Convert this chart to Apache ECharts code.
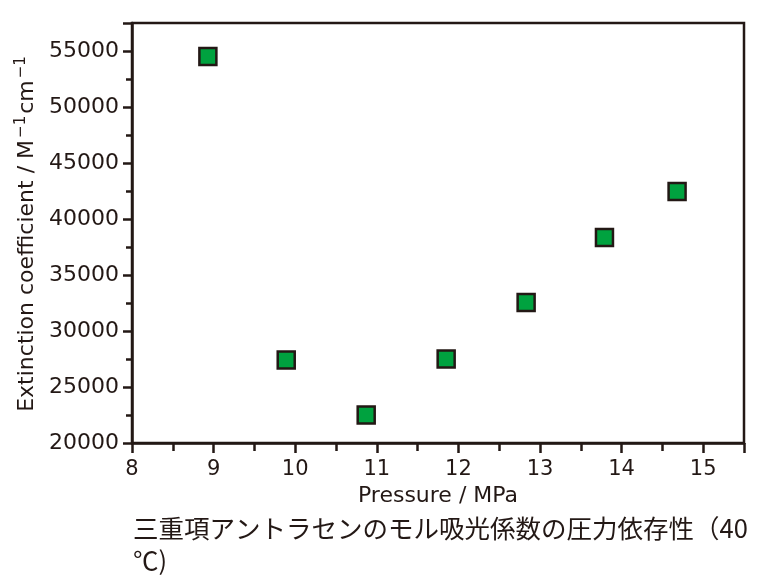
<!DOCTYPE html>
<html>
<head>
<meta charset="utf-8">
<script src="https://cdn.jsdelivr.net/npm/echarts@6/dist/echarts.min.js"></script>
<style>html,body{margin:0;padding:0;background:#fff}#c{width:768px;height:578px}</style>
</head>
<body>
<div id="c"></div>
<script>
const pressure = [8.93, 9.89, 10.87, 11.85, 12.83, 13.79, 14.68];
const extinction = [54500, 27400, 22500, 27500, 32550, 38350, 42450];
const xTitle = 'Pressure / MPa';
const captionLine1 = '三重項アントラセンのモル吸光係数の圧力依存性（40';
const captionLine2 = '℃)';

const ink = '#231815';
const chart = echarts.init(document.getElementById('c'));
chart.setOption({
  animation: false,
  backgroundColor: '#fff',
  title: {
    text: captionLine1 + '\n' + captionLine2,
    left: 128, top: 507,
    textStyle: { fontFamily: 'Noto Sans CJK JP', fontSize: 25.5, fontWeight: 'normal', color: ink, lineHeight: 32 }
  },
  grid: { left: 132, right: 24, top: 23, bottom: 135, show: true, borderColor: ink, borderWidth: 2.5, backgroundColor: 'transparent' },
  xAxis: {
    type: 'value', min: 8, max: 15.5, interval: 1,
    name: xTitle, nameLocation: 'middle', nameGap: 41,
    nameTextStyle: { fontFamily: 'DejaVu Sans', fontSize: 22, color: ink },
    axisLine: { show: true, onZero: false, lineStyle: { color: ink, width: 2.5 } },
    axisTick: { show: true, inside: false, length: 10, lineStyle: { color: ink, width: 2.5 } },
    minorTick: { show: true, splitNumber: 2, length: 8, lineStyle: { color: ink, width: 2.5 } },
    axisLabel: { fontFamily: 'DejaVu Sans', fontSize: 21, color: ink, margin: 16, showMaxLabel: false,
      formatter: v => (Number.isInteger(v) ? String(v) : '') },
    splitLine: { show: false }
  },
  yAxis: {
    type: 'value', min: 20000, max: 57500, interval: 5000,
    name: '{n|Extinction coefficient / M}{s|−1}{n|cm}{s|−1}', nameLocation: 'middle', nameGap: 89,
    nameTextStyle: {
      rich: {
        n: { fontFamily: 'DejaVu Sans', fontSize: 22, color: ink },
        s: { fontFamily: 'DejaVu Sans', fontSize: 15, color: ink, verticalAlign: 'top', padding: [0, 2, 12, 2] }
      }
    },
    axisLine: { show: true, onZero: false, lineStyle: { color: ink, width: 2.5 } },
    axisTick: { show: true, inside: false, length: 9, lineStyle: { color: ink, width: 2.5 } },
    minorTick: { show: true, splitNumber: 2, length: 6, lineStyle: { color: ink, width: 2.5 } },
    axisLabel: { fontFamily: 'DejaVu Sans', fontSize: 22, color: ink, margin: 13, showMaxLabel: false,
      formatter: v => (v % 5000 === 0 ? String(v) : '') },
    splitLine: { show: false }
  },
  series: [{
    type: 'scatter',
    data: pressure.map((p, i) => [p, extinction[i]]),
    symbol: 'rect', symbolSize: 17,
    itemStyle: { color: '#00a23f', borderColor: ink, borderWidth: 2.5, opacity: 1 }
  }]
});
</script>
</body>
</html>
